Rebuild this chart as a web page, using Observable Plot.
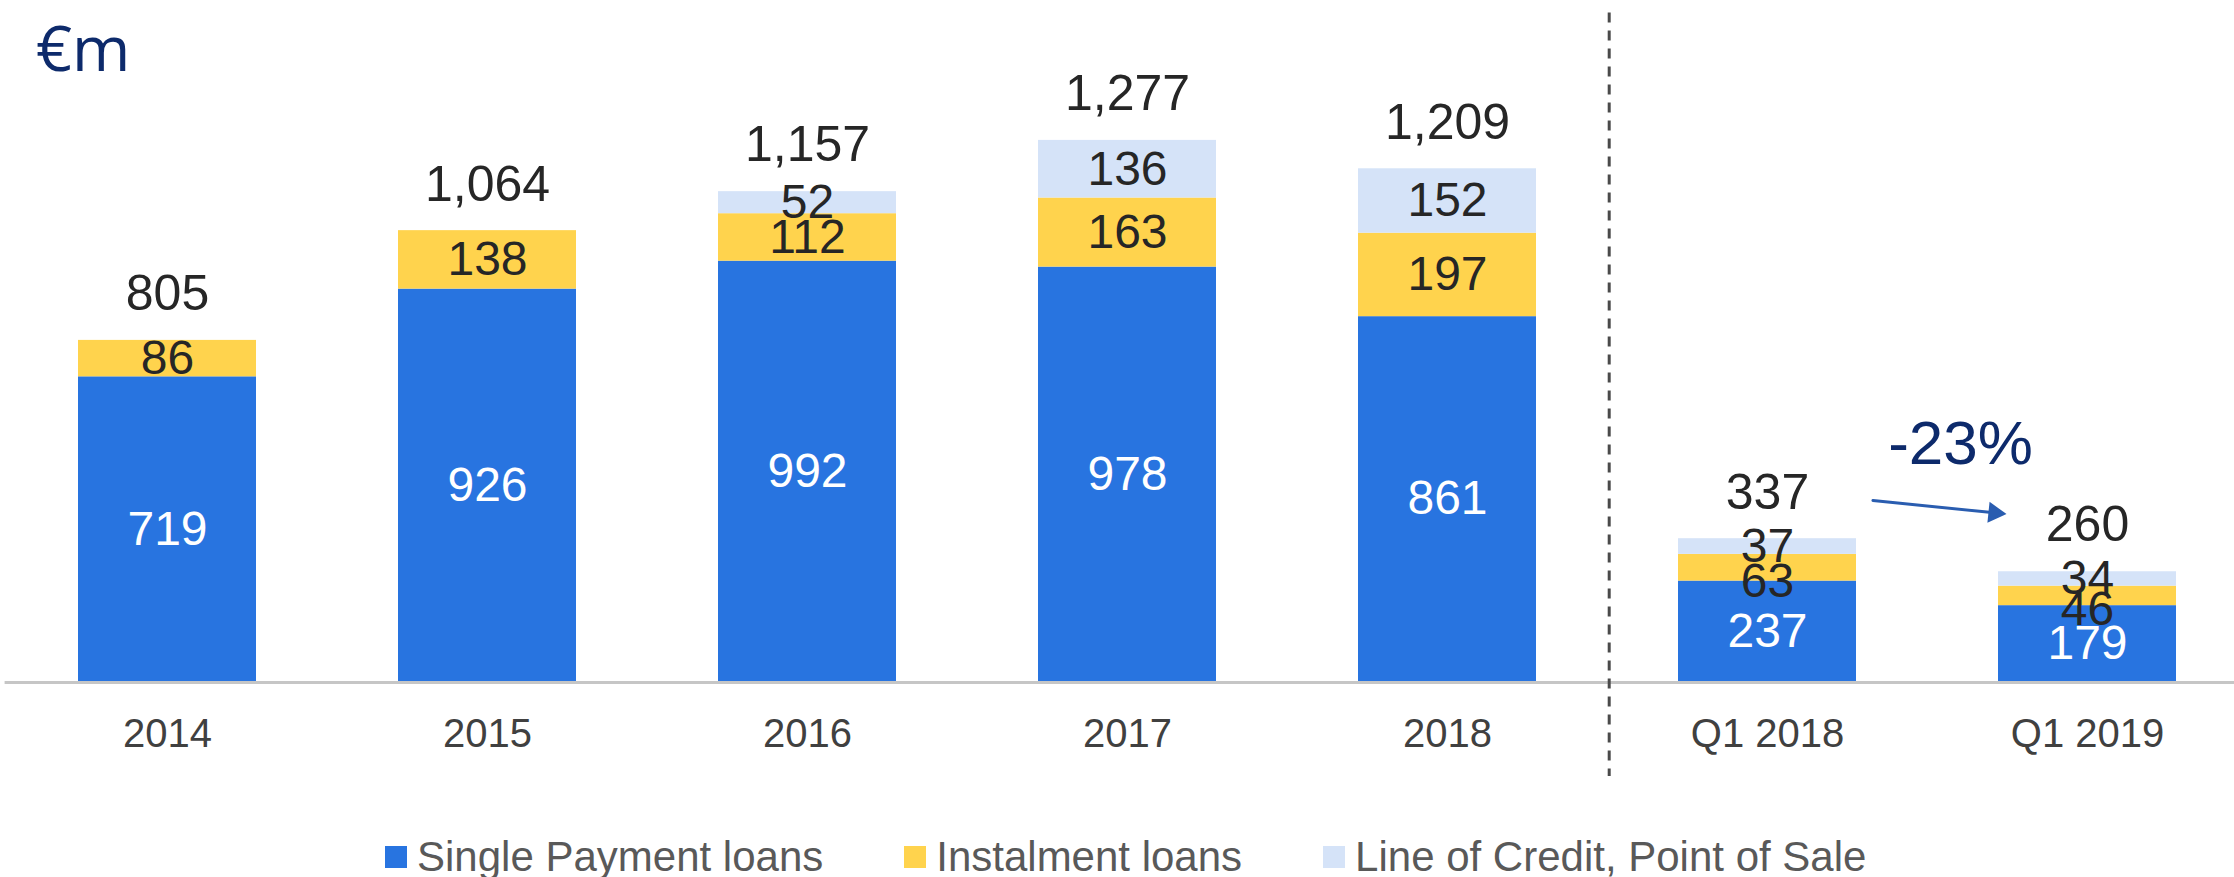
<!DOCTYPE html>
<html>
<head>
<meta charset="utf-8">
<script src="https://cdn.jsdelivr.net/npm/d3@7"></script>
<script src="https://cdn.jsdelivr.net/npm/@observablehq/plot@0.6"></script>
<style>
  html, body { margin: 0; padding: 0; background: #fff; overflow: hidden; }
  #legend { display: flex; align-items: center; padding-left: 385px; margin-top: 36px; height: 42px;
            font-family: "Liberation Sans", Arial, sans-serif; font-size: 42px; color: #595959; }
  #legend .item { display: flex; align-items: center; margin-right: 81px; }
  #legend .sw { width: 22px; height: 22px; margin-right: 10px; }
</style>
</head>
<body>
<div id="chart"></div>
<div id="legend"></div>
<script>
const categories = ["2014", "2015", "2016", "2017", "2018", "Q1 2018", "Q1 2019"];
const seriesNames = ["Single Payment loans", "Instalment loans", "Line of Credit, Point of Sale"];
const singlePayment = [719, 926, 992, 978, 861, 237, 179];
const instalment = [86, 138, 112, 163, 197, 63, 46];
const lineOfCredit = [0, 0, 52, 136, 152, 37, 34];
const totals = [805, 1064, 1157, 1277, 1209, 337, 260];
const changeLabel = "-23%";
const unitLabel = "€m";
const colors = ["#2874e0", "#ffd34d", "#d5e3f8"];

const seriesValues = [singlePayment, instalment, lineOfCredit];
const rows = [];
categories.forEach((cat, i) => {
  let base = 0;
  seriesValues.forEach((vals, s) => {
    const v = vals[i];
    rows.push({cat, series: seriesNames[s], s, value: v, y1: base, y2: base + v, mid: base + v / 2});
    base += v;
  });
});
const totalRows = categories.map((cat, i) => ({cat, total: totals[i]}));
const labelRows = rows.filter(d => d.value > 0);

const W = 2234, H = 800, mL = 75.6, mR = 56.9, pInner = 0.445;
const step = (W - mL - mR) / (categories.length - pInner);
const font = "Liberation Sans, Arial, sans-serif";
const arrowColor = "#2a5db0";

const plot = Plot.plot({
  width: W, height: H,
  marginLeft: mL, marginRight: mR, marginTop: 45.4, marginBottom: 119,
  x: {domain: categories, paddingInner: pInner, paddingOuter: 0, align: 0.5, axis: null},
  y: {domain: [0, 1500], axis: null},
  color: {domain: seriesNames, range: colors},
  style: {fontFamily: font, background: "white", overflow: "visible"},
  marks: [
    Plot.barY(rows, {x: "cat", y1: "y1", y2: "y2", fill: "series"}),
    Plot.ruleY([0], {stroke: "#c6c6c6", strokeWidth: 3, dy: 1, insetLeft: -71, insetRight: -57}),
    Plot.ruleX([categories[5]], {x: d => d, dx: -step / 2 + 2, stroke: "#4a4a4a", strokeWidth: 3,
      strokeDasharray: "10,8", insetTop: -33, insetBottom: -95}),
    // segment labels
    Plot.text(labelRows.filter(d => d.s === 0), {x: "cat", y: "mid", text: d => String(d.value),
      fill: "white", fontSize: 48, lineAnchor: "middle"}),
    Plot.text(labelRows.filter(d => d.s !== 0 && !(d.s === 1 && d.cat.startsWith("Q1"))), {x: "cat", y: "mid",
      text: d => String(d.value), fill: "#262626", fontSize: 48, lineAnchor: "middle"}),
    Plot.text(labelRows.filter(d => d.s === 1 && d.cat.startsWith("Q1")), {x: "cat", y: "mid", dy: 14,
      text: d => String(d.value), fill: "#262626", fontSize: 48, lineAnchor: "middle"}),
    // totals
    Plot.text(totalRows, {x: "cat", y: "total", dy: -46, text: d => d3.format(",")(d.total),
      fill: "#262626", fontSize: 50, lineAnchor: "middle"}),
    // x tick labels
    Plot.text(categories, {x: d => d, frameAnchor: "bottom", dy: 53, text: d => d,
      fill: "#404040", fontSize: 40, lineAnchor: "middle"}),
    // unit label
    Plot.text([unitLabel], {frameAnchor: "top-left", dx: -40, dy: 5, text: d => d, textAnchor: "start",
      lineAnchor: "middle", fill: "#0d2a6b", fontSize: 63, fontFamily: "Open Sans, sans-serif"}),
    // change annotation
    Plot.text([changeLabel], {x: () => categories[6], y: () => totals[5], dx: -127, dy: -95, text: d => d,
      fill: "#0d2a6b", fontSize: 62, lineAnchor: "middle"}),
    Plot.arrow([0], {x1: () => categories[5], y1: () => totals[5], x2: () => categories[6], y2: () => totals[6],
      dy: -49, insetStart: 106, insetEnd: 96, bend: 0, stroke: arrowColor, strokeWidth: 3,
      headLength: 0}),
    Plot.dot([0], {x: () => categories[6], y: () => totals[6], dx: -93, dy: -58.5, symbol: "triangle2",
      r: 10, fill: arrowColor, stroke: "none", rotate: 95.9})
  ]
});
document.getElementById("chart").appendChild(plot);

const legend = document.getElementById("legend");
seriesNames.forEach((name, i) => {
  const item = document.createElement("div");
  item.className = "item";
  const sw = document.createElement("span");
  sw.className = "sw";
  sw.style.background = colors[i];
  const t = document.createElement("span");
  t.textContent = name;
  item.appendChild(sw);
  item.appendChild(t);
  legend.appendChild(item);
});
</script>
</body>
</html>
